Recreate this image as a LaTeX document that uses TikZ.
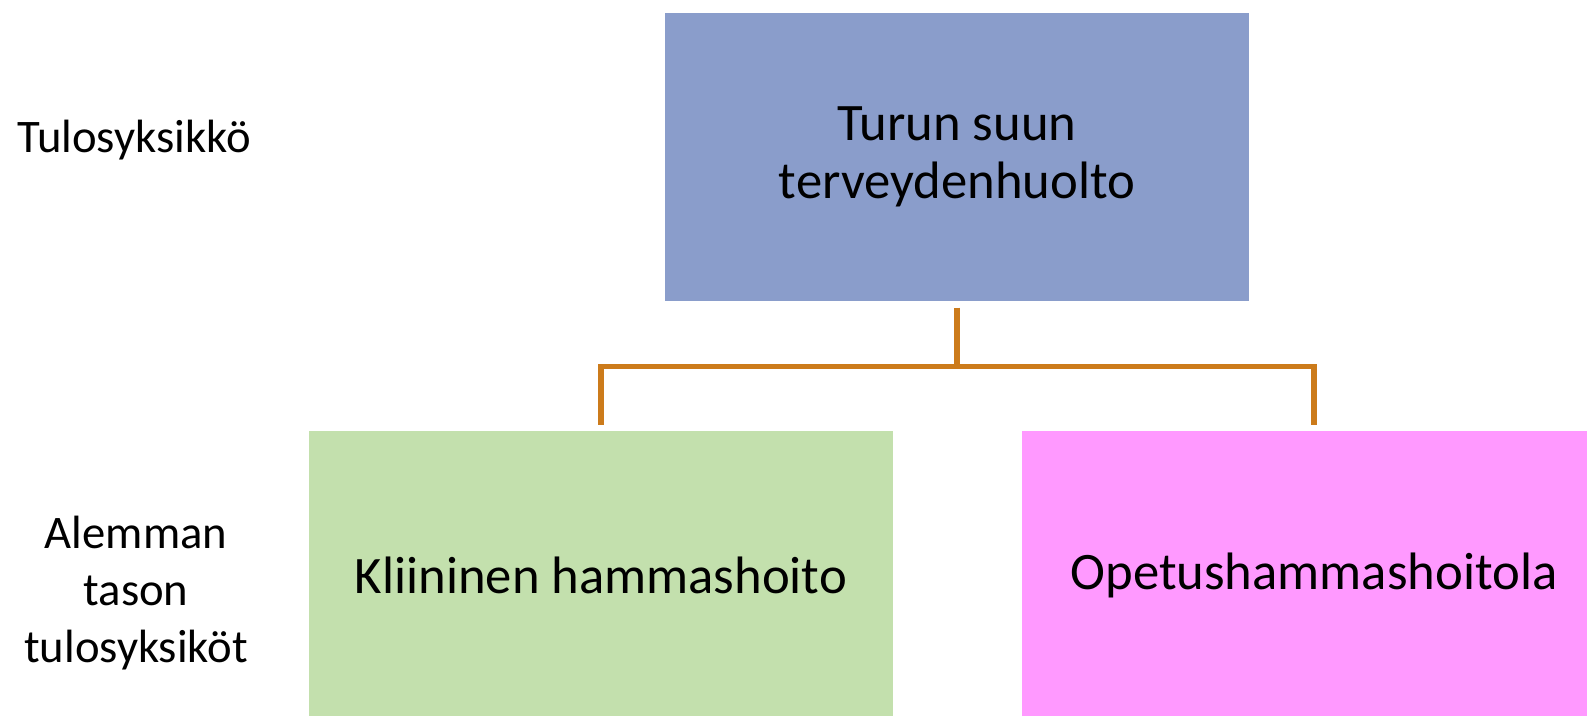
\documentclass[tikz,border=0pt]{standalone}
\usepackage{fontspec}
\setmainfont{Carlito}
\tikzset{every picture/.style={line width=0.75pt}}
\tikzset{
	unit box/.style={draw opacity=0, minimum width=438pt, minimum height=216.5pt, inner sep=0pt, align=center, font=\fontsize{39.5}{44}\selectfont},
	side label/.style={align=center, font=\fontsize{35}{42.75}\selectfont},
	link/.style={draw={rgb, 255:red, 204; green, 123; blue, 27 }, line width=4pt}
}

\begin{document}
\begin{tikzpicture}[x=0.75pt,y=0.75pt,yscale=-1,xscale=1]
	\useasboundingbox (0,0) rectangle (1587,715);

	%Shape: Rectangle [top]
	\node [unit box, fill={rgb, 255:red, 138; green, 157; blue, 203 }] (turku) at (957,157) {Turun suun\\terveydenhuolto};
	%Shape: Rectangle [left]
	\node [unit box, fill={rgb, 255:red, 195; green, 224; blue, 173 }] (kliin) at (601,575.3) {Kliininen hammashoito};
	%Shape: Rectangle [right]
	\node [unit box, fill={rgb, 255:red, 255; green, 153; blue, 255 }] (opetus) at (1314,575.3) {Opetushammashoitola};

	%Straight Lines
	\coordinate (fork) at (957,366.5);
	\draw [link] ([yshift=4.3pt]turku.south) -- (fork);
	\draw [link] ([yshift=-4.3pt]kliin.north) |- (fork) -| ([yshift=-4.3pt]opetus.north);

	% Text Node
	\node [side label, anchor=base] (level1) at (134,152.7) {Tulosyksikkö};
	% Text Node
	\node [side label] (level2) at (136,593) {Alemman\\tason\\tulosyksiköt};

\end{tikzpicture}
\end{document}
